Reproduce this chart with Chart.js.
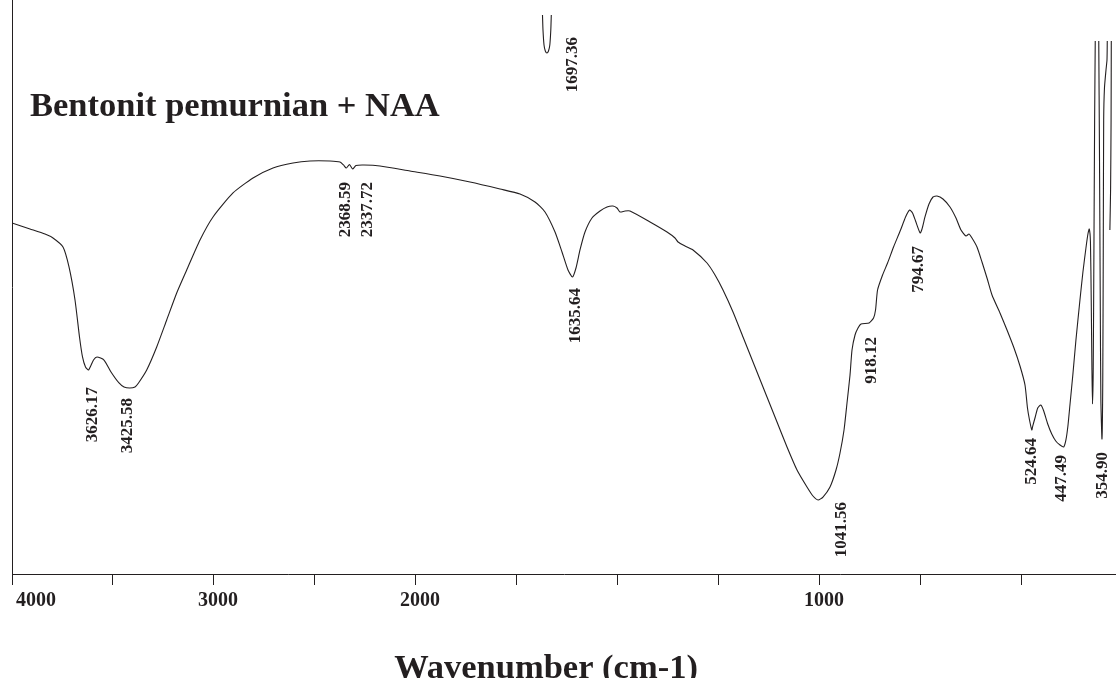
<!DOCTYPE html>
<html>
<head>
<meta charset="utf-8">
<title>Bentonit pemurnian + NAA</title>
<script src="https://cdn.jsdelivr.net/npm/chart.js@4.4.1/dist/chart.umd.min.js"></script>
<style>
  html, body { margin: 0; padding: 0; background: #ffffff; }
  canvas { display: block; }
</style>
</head>
<body>
<canvas id="spectrum" width="1116" height="678"></canvas>
<script>
// ---------------------------------------------------------------
// FTIR spectrum of purified bentonite + NAA
// x: wavenumber (cm-1), y: transmittance (%T, arbitrary full scale)
// null transmittance = trace runs off the top of the plot
// ---------------------------------------------------------------
const spectrumWavenumber = [
  4000, 3912.2, 3838.9, 3799.9, 3751.1, 3721.8, 3692.5, 3670.6, 3655.9, 3641.3,
  3626.17, 3602.2, 3585.2, 3551.0, 3516.8, 3477.8, 3453.4, 3425.58, 3399.7, 3382.6,
  3342.6, 3293.8, 3245.0, 3196.2, 3147.4, 3082.5, 3019.0, 2921.4, 2823.8, 2726.2,
  2628.6, 2545.6, 2448.0, 2399.2, 2382.1, 2368.59, 2352.9, 2337.72, 2321.1, 2282.1,
  2204.0, 2057.6, 1956.0, 1883.4, 1810.9, 1762.5, 1726.2, 1702.0, 1677.8, 1660.9,
  1646.4, 1635.64, 1627.1, 1617.4, 1605.3, 1588.4, 1569.0, 1552.1, 1537.6, 1527.9,
  1520.6, 1508.5, 1496.4, 1448.0, 1406.9, 1387.6, 1380.3, 1363.4, 1344.0, 1310.2,
  1290.8, 1271.5, 1247.3, 1223.1, 1194.1, 1165.1, 1140.9, 1116.7, 1092.5, 1068.4,
  1053.9, 1041.56, 1029.7, 1012.7, 998.2, 988.5, 978.8, 971.6, 964.3, 959.5,
  952.2, 945.0, 937.7, 918.12, 907.4, 902.6, 897.7, 885.6, 873.5, 859.0,
  842.1, 830.0, 820.3, 813.1, 805.8, 794.67, 790.2, 783.0, 773.3, 763.6,
  754.0, 739.5, 722.5, 708.0, 695.9, 683.8, 676.6, 669.3, 657.2, 645.1,
  633.0, 620.9, 601.6, 584.6, 567.7, 553.2, 541.1, 535.1, 530.2, 524.64,
  522.4, 516.3, 510.3, 503.0, 495.8, 486.1, 476.4, 466.7, 456.4, 447.49,
  442.1, 437.3, 432.4, 425.2, 417.9, 408.2, 401.0, 393.7, 388.9, 385.7,
  382.8, 380.9, 379.2, 377.8, 376.1, 374.4, 372.7, 371.2, 367.0, 362.7,
  361.0, 359.1, 357.6, 354.90, 353.0, 351.8, 350.8, 348.9, 345.2, 342.8,
  342.1, 337.0, 332.4, 332.9, 334.1, 335.8
];
const spectrumTransmittance = [
  61.15, 60.11, 59.23, 58.54, 56.97, 53.49, 47.74, 41.29, 37.81, 36.06,
  35.54, 37.28, 37.81, 37.28, 35.19, 33.28, 32.58, 32.40, 32.58, 33.28,
  35.54, 39.55, 44.25, 48.96, 52.96, 58.19, 62.20, 66.38, 68.99, 70.73,
  71.60, 71.95, 71.95, 71.78, 71.26, 70.73, 71.34, 70.56, 71.17, 71.26,
  71.08, 70.21, 69.34, 68.29, 67.07, 66.20, 64.81, 63.07, 59.58, 56.10,
  52.96, 51.74, 53.31, 56.45, 59.58, 62.02, 63.24, 63.94, 64.11, 63.76,
  63.07, 63.24, 63.24, 61.33, 59.58, 58.54, 57.84, 57.14, 56.45, 54.18,
  52.09, 49.48, 45.65, 41.29, 36.06, 30.84, 26.48, 22.13, 18.12, 15.16,
  13.59, 12.89, 13.41, 15.16, 18.12, 21.08, 25.09, 29.79, 34.67, 39.03,
  41.64, 42.86, 43.56, 43.73, 44.60, 45.99, 49.48, 52.09, 54.18, 56.97,
  59.93, 62.20, 63.42, 62.89, 61.50, 59.41, 60.11, 62.20, 64.46, 65.68,
  65.86, 65.33, 63.94, 62.02, 59.93, 58.89, 59.23, 58.54, 56.97, 54.36,
  51.57, 48.61, 45.47, 42.51, 39.37, 36.24, 32.93, 28.92, 26.83, 25.09,
  25.78, 27.35, 28.92, 29.44, 28.40, 26.13, 24.39, 23.17, 22.47, 22.13,
  23.35, 25.78, 29.44, 34.84, 40.77, 47.74, 52.61, 56.80, 59.23, 60.11,
  57.84, 47.74, 35.54, 29.62, 35.54, 56.45, 79.10, 92.86, null, 92.86,
  73.87, 47.74, 30.31, 23.52, 33.80, 56.45, 79.10, 84.67, 87.81, 89.55,
  92.86, null, 92.86, 79.10, 66.90, 59.93
];

// narrow band near 1697 cm-1 that comes down from above the plot
const spikeWavenumber = [1708.1, 1706.9, 1704.4, 1701.3, 1697.36, 1693.6, 1690.4, 1688.0, 1686.8];
const spikeTransmittance = [97.39, 94.78, 92.16, 91.12, 90.77, 91.12, 92.16, 94.78, 97.39];

// assigned band positions (cm-1)
const peakWavenumbers = [
  3626.17, 3425.58, 2368.59, 2337.72, 1697.36, 1635.64,
  1041.56, 918.12, 794.67, 524.64, 447.49, 354.90
];

// printed wavenumber axis
const axisTickValues = [4000, 3500, 3000, 2500, 2000, 1750, 1500, 1250, 1000, 750, 500];
const axisTickLabels = ['4000', '', '3000', '', '2000', '', '', '', '1000', '', ''];

const chartTitle = 'Bentonit pemurnian + NAA';
const axisTitle = 'Wavenumber (cm-1)';

// ---------------------------------------------------------------
// layout / style
// ---------------------------------------------------------------
const ink = '#231f20';
const serif = '"Liberation Serif", "Times New Roman", serif';

// piecewise-linear wavenumber axes (scale doubles below 2000 cm-1):
// [wavenumber, fraction of plot width from the left]
const axisKnots = {
  x:  [[4000, 0], [2000, 0.36594], [267.3, 1]],
  xd: [[4000, 0], [2000, 0.37120], [321, 1]]
};

// label placement relative to the band it names: [dx, dy] in px
const peakLabelOffsets = [
  [4, 17], [-2, 10], [-1, 14], [15, 13], [26, -16], [3, 11],
  [24, 2], [2, 14], [-2, 13], [0, 8], [-2, 8], [1, 13]
];

// ---------------------------------------------------------------
// segmented (scale-change) axis
// ---------------------------------------------------------------
class SegmentedScale extends Chart.LinearScale {
  static id = 'segmented';

  _knots() { return axisKnots[this.id]; }

  determineDataLimits() {
    this.min = this.options.min;
    this.max = this.options.max;
  }

  buildTicks() { return []; }

  _fractionFor(value) {
    const k = this._knots();
    let i = 0;
    while (i < k.length - 2 && value < k[i + 1][0]) i++;
    const [v0, f0] = k[i], [v1, f1] = k[i + 1];
    return f0 + (value - v0) / (v1 - v0) * (f1 - f0);
  }

  getPixelForValue(value) {
    if (value === null || value === undefined || isNaN(value)) return NaN;
    return this.getPixelForDecimal(this._fractionFor(value));
  }

  getValueForPixel(pixel) {
    const d = this.getDecimalForPixel(pixel);
    const k = this._knots();
    let i = 0;
    while (i < k.length - 2 && d > k[i + 1][1]) i++;
    const [v0, f0] = k[i], [v1, f1] = k[i + 1];
    return v0 + (d - f0) / (f1 - f0) * (v1 - v0);
  }
}
Chart.register(SegmentedScale);

// ---------------------------------------------------------------
// text: title, band labels, axis title
// ---------------------------------------------------------------
function transmittanceAt(w) {
  let i = spectrumWavenumber.indexOf(w);
  if (i >= 0) return spectrumTransmittance[i];
  i = spikeWavenumber.indexOf(w);
  return i >= 0 ? spikeTransmittance[i] : null;
}

const spectrumText = {
  id: 'spectrumText',
  afterDatasetsDraw(chart) {
    const ctx = chart.ctx;
    const xs = chart.scales.xd;
    const ys = chart.scales.y;
    ctx.save();
    ctx.fillStyle = ink;

    // sample name
    ctx.font = 'bold 34.5px ' + serif;
    ctx.textAlign = 'left';
    ctx.textBaseline = 'alphabetic';
    ctx.fillText(chartTitle, 30, 116);

    // band labels, rotated, reading upwards
    ctx.font = 'bold 17px ' + serif;
    peakWavenumbers.forEach((w, i) => {
      const t = transmittanceAt(w);
      const px = xs.getPixelForValue(w) + peakLabelOffsets[i][0];
      const py = ys.getPixelForValue(t) + peakLabelOffsets[i][1];
      ctx.save();
      ctx.translate(px, py);
      ctx.rotate(-Math.PI / 2);
      ctx.textAlign = 'right';
      ctx.textBaseline = 'middle';
      ctx.fillText(w.toFixed(2), 0, 0);
      ctx.restore();
    });

    // axis title
    ctx.font = 'bold 34.5px ' + serif;
    ctx.textAlign = 'center';
    ctx.textBaseline = 'alphabetic';
    ctx.fillText(axisTitle, 546, 677.5);

    ctx.restore();
  }
};

// ---------------------------------------------------------------
// chart
// ---------------------------------------------------------------
Chart.defaults.font.family = serif;
Chart.defaults.color = ink;

const toPoints = (xs, ys) => xs.map((x, i) => ({ x: x, y: ys[i] }));

new Chart(document.getElementById('spectrum'), {
  type: 'line',
  data: {
    datasets: [
      {
        label: 'Bentonit pemurnian + NAA',
        data: toPoints(spectrumWavenumber, spectrumTransmittance),
        xAxisID: 'xd',
        yAxisID: 'y',
        borderColor: ink,
        borderWidth: 1.1,
        pointRadius: 0,
        tension: 0.2,
        spanGaps: false,
        fill: false
      },
      {
        label: '1697.36',
        data: toPoints(spikeWavenumber, spikeTransmittance),
        xAxisID: 'xd',
        yAxisID: 'y',
        borderColor: ink,
        borderWidth: 1.1,
        pointRadius: 0,
        tension: 0.2,
        fill: false
      }
    ]
  },
  options: {
    responsive: false,
    animation: false,
    devicePixelRatio: 1,
    events: [],
    layout: { padding: { left: 12, right: 0, top: 0, bottom: 0 } },
    plugins: {
      legend: { display: false },
      tooltip: { enabled: false },
      title: { display: false }
    },
    scales: {
      x: {
        type: 'segmented',
        position: 'bottom',
        min: 267.3,
        max: 4000,
        afterBuildTicks(scale) {
          scale.ticks = axisTickValues.map(v => ({ value: v }));
        },
        afterFit(scale) {
          scale.height = 104;
          scale.paddingLeft = 0;
          scale.paddingRight = 0;
        },
        ticks: {
          autoSkip: false,
          maxRotation: 0,
          minRotation: 0,
          align: 'inner',
          labelOffset: 4,
          padding: 4,
          color: ink,
          font: { family: serif, size: 20, weight: 'bold' },
          callback: (value, index) => axisTickLabels[index]
        },
        grid: {
          display: true,
          drawOnChartArea: false,
          drawTicks: true,
          tickLength: 11,
          tickColor: ink,
          tickWidth: 1,
          color: ink
        },
        border: { display: true, color: ink, width: 1 }
      },
      xd: {
        type: 'segmented',
        display: false,
        position: 'bottom',
        min: 321,
        max: 4000
      },
      y: {
        type: 'linear',
        position: 'left',
        min: 0,
        max: 100,
        ticks: { display: false },
        grid: { display: false, drawTicks: false },
        border: { display: true, color: ink, width: 1 },
        afterFit(scale) { scale.width = 0; }
      }
    }
  },
  plugins: [spectrumText]
});
</script>
</body>
</html>
